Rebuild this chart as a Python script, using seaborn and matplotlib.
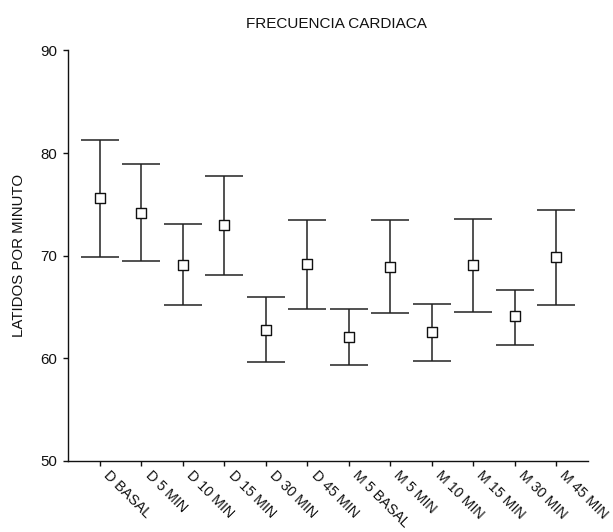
import matplotlib
matplotlib.use("Agg")
import matplotlib.pyplot as plt
import matplotlib.transforms as mtransforms
import seaborn as sns
import pandas as pd
import numpy as np

categories = ["D BASAL", "D 5 MIN", "D 10 MIN", "D 15 MIN", "D 30 MIN", "D 45 MIN",
              "M 5 BASAL", "M 5 MIN", "M 10 MIN", "M 15 MIN", "M 30 MIN", "M 45 MIN"]
means = [75.6, 74.2, 69.1, 73.0, 62.8, 69.2, 62.1, 68.9, 62.6, 69.1, 64.1, 69.9]
upper = [81.3, 78.9, 73.1, 77.8, 66.0, 73.5, 64.8, 73.5, 65.3, 73.6, 66.7, 74.5]
lower = [69.9, 69.5, 65.2, 68.1, 59.6, 64.8, 59.4, 64.4, 59.7, 64.5, 61.3, 65.2]
yticks = [50, 60, 70, 80, 90]

df = pd.DataFrame({"cat": categories, "mean": means, "lo": lower, "hi": upper})

sns.set_theme(style="ticks")
plt.rcParams["font.family"] = ["Liberation Sans", "DejaVu Sans"]

fig = plt.figure(figsize=(6.13, 5.32), dpi=100)
ax = fig.add_axes([68.3 / 613, 71 / 532, (588 - 68.3) / 613, (461 - 50.5) / 532])

xpos = np.arange(len(categories))
ax.errorbar(xpos, df["mean"], yerr=[df["mean"] - df["lo"], df["hi"] - df["mean"]],
            fmt="none", ecolor="#222222", elinewidth=1.1, capsize=14, capthick=1.1, zorder=2)
sns.scatterplot(data=df, x="cat", y="mean", marker="s", s=42, facecolor="white",
                edgecolor="#111111", linewidth=1.0, ax=ax, zorder=3)

ax.set_xlim(-0.765, len(categories) - 1 + 0.77)
ax.set_ylim(50, 90)
ax.set_yticks(yticks)
ax.set_yticklabels([str(v) for v in yticks])
ax.set_xticks(xpos)
ax.tick_params(axis="x", labelbottom=False)

base = mtransforms.blended_transform_factory(ax.transData, ax.transAxes)
offset = mtransforms.ScaledTranslation(11 / 100, -7 / 100, fig.dpi_scale_trans)
for i, lab in enumerate(categories):
    ax.text(i, 0, lab, transform=base + offset, rotation=-45, rotation_mode="anchor",
            ha="left", va="top", fontsize=10.3, color="#111111", clip_on=False)

for s in ["top", "right"]:
    ax.spines[s].set_visible(False)
for s in ["left", "bottom"]:
    ax.spines[s].set_color("#111111")
    ax.spines[s].set_linewidth(1.0)
ax.tick_params(axis="both", length=3.8, width=1.0, color="#111111",
               labelcolor="#111111", pad=4)
ax.tick_params(axis="y", labelsize=10.8)
ax.set_xlabel("")
ax.set_ylabel("LATIDOS POR MINUTO", fontsize=10.8, color="#111111", labelpad=10)
ax.yaxis.set_label_coords(-(68.3 - 26) / (588 - 68.3), 0.5)
fig.text(336 / 613, 1 - 24 / 532, "FRECUENCIA CARDIACA", ha="center", va="center",
         fontsize=11, color="#111111")

fig.savefig("out.png", dpi=100)
